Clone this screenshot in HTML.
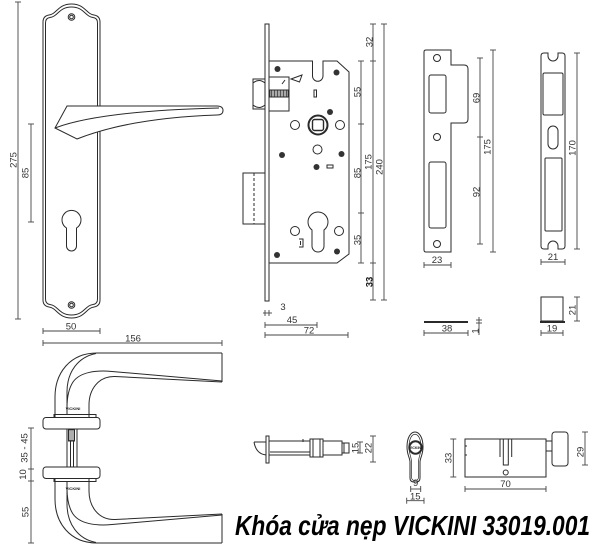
<!DOCTYPE html>
<html><head><meta charset="utf-8"><style>
html,body{margin:0;padding:0;background:#fff;}
svg{display:block}
text{font-family:"Liberation Sans",Arial,sans-serif;fill:#333;font-size:9.5px}
</style></head><body>
<svg width="600" height="550" viewBox="0 0 600 550" xmlns="http://www.w3.org/2000/svg">

<!-- ============ HANDLE PLATE ============ -->
<g fill="none" stroke="#2a2a2a" stroke-width="1">
  <path d="M43,22 Q43,16 49,15 C57,14 58,4 71.5,4 C85,4 86,14 94,15 Q100,16 100,22 L100,300 Q100,306 94,307 C86,308 85,318 71.5,318 C58,318 57,308 49,307 Q43,306 43,300 Z"/>
  <path d="M45.5,23 Q45.5,18 50,17.5 C58,16.5 59,7 71.5,7 C84,7 85,16.5 93,17.5 Q97.5,18 97.5,23 L97.5,299 Q97.5,304 93,304.5 C85,305.5 84,315 71.5,315 C59,315 58,305.5 50,304.5 Q45.5,304 45.5,299 Z"/>
  <circle cx="71.5" cy="17" r="3.3"/><circle cx="71.5" cy="17" r="1.8"/>
  <circle cx="71.5" cy="305" r="3.3"/><circle cx="71.5" cy="305" r="1.8"/>
  <path d="M66.5,228 A9.5,9.5 0 1 1 76.5,228 L76.5,246 A5,5 0 0 1 66.5,246 Z"/>
  <!-- lever -->
  <path fill="#fff" d="M67,106 L217,106 Q223,106 223,110.5 Q223,115 217,115 Q130,118 77,139 L55,128 Z"/>
  <path d="M55,128 Q100,111 219,108"/>
</g>

<!-- plate dims -->
<g stroke="#444" stroke-width="0.9" fill="none">
  <line x1="18" y1="2" x2="18" y2="319"/><line x1="15" y1="2" x2="21" y2="2"/><line x1="15" y1="319" x2="21" y2="319"/>
  <line x1="31" y1="124" x2="31" y2="222"/><line x1="28" y1="124" x2="34" y2="124"/><line x1="28" y1="222" x2="34" y2="222"/>
  <line x1="43" y1="331" x2="100" y2="331"/><line x1="43" y1="328" x2="43" y2="334"/><line x1="100" y1="328" x2="100" y2="334"/>
  <line x1="43" y1="343" x2="222" y2="343"/><line x1="43" y1="340" x2="43" y2="346"/><line x1="222" y1="340" x2="222" y2="346"/>
</g>
<text transform="translate(16.6,160) rotate(-90)" text-anchor="middle">275</text>
<text transform="translate(28.3,173) rotate(-90)" text-anchor="middle">85</text>
<text x="71" y="329.5" text-anchor="middle">50</text>
<text x="133" y="341.5" text-anchor="middle">156</text>

<!-- ============ HANDLE SIDE VIEW ============ -->
<g fill="none" stroke="#2a2a2a" stroke-width="1">
  <g id="hup">
    <path d="M222,353 L97,353 C70,353 55,373 55,397 L55,417"/>
    <path d="M96,353.5 C78,357 67,372 67,392 L67,415"/>
    <path d="M222,353 L222,382"/>
    <path d="M222,381 L112,371.5 C96,370 80,372 73,382 C69,388 67,396 67,408"/>
    <path d="M222,382 L115,376.5 C98,376 89,390 89,405 L89,417"/>
    <rect x="54" y="414.5" width="42" height="3"/>
    <rect x="43" y="417.5" width="57" height="11.5" rx="3" fill="#fff"/>
  </g>
  <g transform="matrix(1 0 0 -1 0 896)">
    <path d="M222,353 L97,353 C70,353 55,373 55,397 L55,417"/>
    <path d="M96,353.5 C78,357 67,372 67,392 L67,415"/>
    <path d="M222,353 L222,382"/>
    <path d="M222,381 L112,371.5 C96,370 80,372 73,382 C69,388 67,396 67,408"/>
    <path d="M222,382 L115,376.5 C98,376 89,390 89,405 L89,417"/>
    <rect x="54" y="414.5" width="42" height="3"/>
    <rect x="43" y="417.5" width="57" height="11.5" rx="3" fill="#fff"/>
  </g>
  <!-- spindle -->
  <rect x="67" y="429" width="10" height="38"/>
  <line x1="70.5" y1="441" x2="70.5" y2="467"/><line x1="73.5" y1="441" x2="73.5" y2="467"/>
  <rect x="68.5" y="430" width="6" height="11"/>
  <path d="M68.5,432 H74.5 M68.5,434 H74.5 M68.5,436 H74.5 M68.5,438 H74.5 M68.5,440 H74.5" stroke-width="0.7"/>
</g>
<text x="73" y="410" text-anchor="middle" style="font-size:4px;font-weight:bold;fill:#222">VICKINI</text>
<text x="73" y="490" text-anchor="middle" style="font-size:4px;font-weight:bold;fill:#222">VICKINI</text>
<g stroke="#444" stroke-width="0.9" fill="none">
  <line x1="31" y1="428" x2="31" y2="543"/>
  <line x1="28" y1="428" x2="34" y2="428"/><line x1="28" y1="469" x2="34" y2="469"/>
  <line x1="28" y1="481" x2="34" y2="481"/><line x1="28" y1="543" x2="34" y2="543"/>
</g>
<text transform="translate(27.3,448) rotate(-90)" text-anchor="middle">35 - 45</text>
<text transform="translate(26,474.5) rotate(-90)" text-anchor="middle">10</text>
<text transform="translate(28.3,512) rotate(-90)" text-anchor="middle">55</text>

<!-- ============ MORTISE LOCK BODY ============ -->
<g fill="none" stroke="#2a2a2a" stroke-width="1">
  <rect x="265" y="24" width="4" height="277"/>
  <path d="M269,61 L312.5,61 L312.5,76 A5.25,5.25 0 0 0 323,76 L323,61 L337,61 L349,72 L349,254 L337,263 L269,263 Z"/>
  <!-- latch -->
  <rect x="253" y="79" width="12" height="30"/>
  <path d="M253,83 Q259,78 265,83 M253,105 Q259,110 265,105"/>
  <rect x="269" y="77" width="20" height="34"/>
  <rect x="270" y="90" width="18" height="7"/>
  <path d="M271.5,90v7M273,90v7M274.5,90v7M276,90v7M277.5,90v7M279,90v7M280.5,90v7M282,90v7M283.5,90v7M285,90v7M286.5,90v7" stroke-width="0.8"/>
  <line x1="282" y1="84" x2="285" y2="80"/>
  <path d="M291,79 L302,75 L299.5,82 Z"/>
  <!-- spindle -->
  <circle cx="318" cy="125" r="9.5" stroke-width="2"/>
  <rect x="312.5" y="119.5" width="11" height="11" rx="2" stroke-width="1.4"/>
  <circle cx="295" cy="125" r="4.5"/><circle cx="340" cy="125" r="4.5"/>
  <circle cx="317.5" cy="149.5" r="4.5"/>
  <circle cx="295" cy="231" r="4.5"/><circle cx="339" cy="231" r="4.5"/>
  <rect x="314" y="90" width="2.5" height="7"/>
  <rect x="327" y="165" width="6" height="3"/>
  <path d="M312,230 A10,10 0 1 1 324,230 L324,246 A6,6 0 0 1 312,246 Z"/>
  <path d="M299,239 L303,239 L303,247 L299,247 M300.5,241 L300.5,245"/>
  <!-- deadbolt -->
  <rect x="243" y="173" width="22" height="51"/>
  <line x1="254" y1="173" x2="254" y2="224" stroke-dasharray="3,2"/>
</g>
<g fill="#333">
  <circle cx="277.5" cy="69" r="3"/><circle cx="336.5" cy="72.5" r="3"/>
  <circle cx="330" cy="112" r="3"/><circle cx="282" cy="155" r="3"/>
  <circle cx="341.5" cy="154" r="3"/><circle cx="316.5" cy="167" r="3"/>
  <circle cx="277" cy="255" r="3"/><circle cx="337" cy="251.5" r="3"/>
</g>
<g stroke="#444" stroke-width="0.9" fill="none">
  <line x1="361" y1="61" x2="361" y2="263"/>
  <line x1="358" y1="61" x2="364" y2="61"/><line x1="358" y1="124" x2="364" y2="124"/>
  <line x1="358" y1="213" x2="364" y2="213"/><line x1="358" y1="263" x2="364" y2="263"/>
  <line x1="373" y1="24" x2="373" y2="300"/>
  <line x1="370" y1="24" x2="376" y2="24"/><line x1="370" y1="61" x2="376" y2="61"/>
  <line x1="370" y1="263" x2="376" y2="263"/><line x1="370" y1="300" x2="376" y2="300"/>
  <line x1="384" y1="24" x2="384" y2="300"/>
  <line x1="381" y1="24" x2="387" y2="24"/><line x1="381" y1="300" x2="387" y2="300"/>
  <!-- bottom dims -->
  <line x1="263" y1="313" x2="272" y2="313"/>
  <line x1="265" y1="310" x2="265" y2="316"/><line x1="269" y1="310" x2="269" y2="316"/>
  <line x1="265" y1="325" x2="317" y2="325"/>
  <line x1="265" y1="322" x2="265" y2="328"/><line x1="317" y1="322" x2="317" y2="328"/>
  <line x1="265" y1="335" x2="348" y2="335"/>
  <line x1="265" y1="332" x2="265" y2="338"/><line x1="348" y1="332" x2="348" y2="338"/>
</g>
<text transform="translate(360.3,92) rotate(-90)" text-anchor="middle">55</text>
<text transform="translate(360.3,173) rotate(-90)" text-anchor="middle">85</text>
<text transform="translate(360.3,240) rotate(-90)" text-anchor="middle">35</text>
<text transform="translate(372.3,42) rotate(-90)" text-anchor="middle">32</text>
<text transform="translate(371.3,162) rotate(-90)" text-anchor="middle">175</text>
<text transform="translate(372.5,282) rotate(-90)" text-anchor="middle" style="font-weight:bold;fill:#111">33</text>
<text transform="translate(382.3,167) rotate(-90)" text-anchor="middle">240</text>
<text x="283" y="310" text-anchor="middle">3</text>
<text x="292" y="323" text-anchor="middle">45</text>
<text x="309" y="333.5" text-anchor="middle">72</text>

<!-- ============ STRIKE PLATES ============ -->
<g fill="none" stroke="#2a2a2a" stroke-width="1">
  <path d="M426,50 L451,50 L451,65 L464,65 Q468,65 468,69 L468,119 Q468,123 464,123 L451,123 L451,252 L426,252 Q424,252 424,250 L424,52 Q424,50 426,50 Z"/>
  <circle cx="437" cy="58" r="3.5"/>
  <rect x="429" y="75" width="17" height="38" rx="2"/>
  <circle cx="437" cy="137" r="3.5"/>
  <rect x="429" y="162" width="17" height="66" rx="2"/>
  <circle cx="437" cy="244" r="3.5"/>

  <path d="M544,53 L548,53 L548,56 A5,5 0 0 0 558,56 L558,53 L562,53 Q565,53 565,56 L565,246 Q565,249 562,249 L558,249 L558,246 A5,5 0 0 0 548,246 L548,249 L544,249 Q541,249 541,246 L541,56 Q541,53 544,53 Z"/>
  <rect x="543" y="73" width="20" height="42" rx="1.5"/>
  <rect x="548" y="126" width="10" height="23" rx="5"/>
  <rect x="545" y="158" width="17" height="73" rx="1"/>

  <!-- small parts -->
  <line x1="424" y1="322" x2="468" y2="322" stroke-width="2"/>
  <rect x="541" y="297" width="22" height="24"/>
  <line x1="540" y1="322" x2="565" y2="322" stroke-width="2"/>
</g>
<g stroke="#444" stroke-width="0.9" fill="none">
  <line x1="480" y1="58" x2="480" y2="244"/>
  <line x1="477" y1="58" x2="483" y2="58"/><line x1="477" y1="137" x2="483" y2="137"/><line x1="477" y1="244" x2="483" y2="244"/>
  <line x1="493" y1="50" x2="493" y2="252"/>
  <line x1="490" y1="50" x2="496" y2="50"/><line x1="490" y1="252" x2="496" y2="252"/>
  <line x1="424" y1="265" x2="451" y2="265"/>
  <line x1="424" y1="262" x2="424" y2="268"/><line x1="451" y1="262" x2="451" y2="268"/>
  <line x1="577" y1="53" x2="577" y2="249"/>
  <line x1="574" y1="53" x2="580" y2="53"/><line x1="574" y1="249" x2="580" y2="249"/>
  <line x1="541" y1="262" x2="565" y2="262"/>
  <line x1="541" y1="259" x2="541" y2="265"/><line x1="565" y1="259" x2="565" y2="265"/>
  <line x1="424" y1="333" x2="468" y2="333"/>
  <line x1="424" y1="330" x2="424" y2="336"/><line x1="468" y1="330" x2="468" y2="336"/>
  <line x1="479" y1="317" x2="479" y2="335"/>
  <line x1="476" y1="320" x2="482" y2="320"/><line x1="476" y1="323" x2="482" y2="323"/>
  <line x1="577" y1="297" x2="577" y2="321"/>
  <line x1="574" y1="297" x2="580" y2="297"/><line x1="574" y1="321" x2="580" y2="321"/>
  <line x1="541" y1="333" x2="563" y2="333"/>
  <line x1="541" y1="330" x2="541" y2="336"/><line x1="563" y1="330" x2="563" y2="336"/>
</g>
<text transform="translate(479.3,98) rotate(-90)" text-anchor="middle">69</text>
<text transform="translate(479.3,192) rotate(-90)" text-anchor="middle">92</text>
<text transform="translate(490.3,147) rotate(-90)" text-anchor="middle">175</text>
<text x="437" y="263" text-anchor="middle">23</text>
<text transform="translate(575.3,148) rotate(-90)" text-anchor="middle">170</text>
<text x="553" y="260" text-anchor="middle">21</text>
<text x="447" y="331.5" text-anchor="middle">38</text>
<text transform="translate(478.3,331) rotate(-90)" text-anchor="middle">1</text>
<text transform="translate(575.3,310) rotate(-90)" text-anchor="middle">21</text>
<text x="552" y="331.5" text-anchor="middle">19</text>

<!-- ============ LATCH BOLT ============ -->
<g fill="none" stroke="#2a2a2a" stroke-width="1">
  <rect x="266" y="436" width="3" height="27"/>
  <path d="M254,442 L266,442 M254,442 Q256,454 266,455"/>
  <rect x="269" y="441" width="73" height="14"/>
  <line x1="270" y1="452" x2="310" y2="452"/>
  <rect x="342" y="443" width="7" height="10"/>
  <line x1="344" y1="443" x2="344" y2="453"/>
  <rect x="310" y="439" width="13" height="18" fill="#fff"/>
  <line x1="313" y1="439" x2="313" y2="457"/><line x1="320" y1="439" x2="320" y2="457"/>
  <line x1="303" y1="439" x2="303" y2="442"/>
</g>
<g stroke="#444" stroke-width="0.9" fill="none">
  <line x1="360" y1="442" x2="360" y2="453"/>
  <line x1="357" y1="442" x2="363" y2="442"/><line x1="357" y1="453" x2="363" y2="453"/>
  <line x1="373" y1="436" x2="373" y2="462"/>
  <line x1="370" y1="436" x2="376" y2="436"/><line x1="370" y1="462" x2="376" y2="462"/>
</g>
<text transform="translate(358.3,448) rotate(-90)" text-anchor="middle">15</text>
<text transform="translate(371.6,448) rotate(-90)" text-anchor="middle">22</text>

<!-- ============ CYLINDER END VIEW ============ -->
<g fill="none" stroke="#2a2a2a" stroke-width="1">
  <path d="M407,447 C407,427 423,427 423,447 C423,455 420,458 420,462 L420,478 Q420,482 416,482 L414,482 Q410,482 410,478 L410,462 C410,458 407,455 407,447 Z"/>
  <path d="M409,447 C409,430 421,430 421,447 C421,454 418.5,457 418.5,462 L418.5,477 Q418.5,480.5 415,480.5 Q411.5,480.5 411.5,477 L411.5,462 C411.5,457 409,454 409,447 Z" stroke-width="0.7"/>
  <circle cx="415.5" cy="447.5" r="6.2" stroke-width="2"/>
</g>
<text x="415.5" y="449" text-anchor="middle" style="font-size:3.5px;font-weight:bold;fill:#222">VICKINI</text>
<g stroke="#444" stroke-width="0.9" fill="none">
  <line x1="410.7" y1="489" x2="420.7" y2="489"/>
  <line x1="410.7" y1="486" x2="410.7" y2="492"/><line x1="420.7" y1="486" x2="420.7" y2="492"/>
  <line x1="406.7" y1="500.7" x2="424" y2="500.7"/>
  <line x1="406.7" y1="497.7" x2="406.7" y2="503.7"/><line x1="424" y1="497.7" x2="424" y2="503.7"/>
</g>
<text x="415.7" y="486" text-anchor="middle">9</text>
<text x="415.3" y="499.5" text-anchor="middle">15</text>

<!-- ============ CYLINDER SIDE ============ -->
<g fill="none" stroke="#2a2a2a" stroke-width="1">
  <rect x="465" y="439" width="81" height="38"/>
  <line x1="465" y1="446" x2="467" y2="446"/><line x1="465" y1="455" x2="467" y2="455"/>
  <line x1="500" y1="439" x2="500" y2="457"/><line x1="511.7" y1="439" x2="511.7" y2="457"/>
  <path d="M503.3,439 L503.3,465 L508.3,465 L508.3,439"/>
  <circle cx="505.7" cy="472.5" r="2.5"/>
  <rect x="546" y="441" width="6" height="10"/>
  <rect x="552" y="432" width="16" height="34" rx="3"/>
</g>
<g stroke="#444" stroke-width="0.9" fill="none">
  <line x1="453.3" y1="439" x2="453.3" y2="477"/>
  <line x1="450.3" y1="439" x2="456.3" y2="439"/><line x1="450.3" y1="477" x2="456.3" y2="477"/>
  <line x1="465" y1="489" x2="546" y2="489"/>
  <line x1="465" y1="486" x2="465" y2="492"/><line x1="546" y1="486" x2="546" y2="492"/>
  <line x1="585" y1="432" x2="585" y2="465"/>
  <line x1="582" y1="432" x2="588" y2="432"/><line x1="582" y1="465" x2="588" y2="465"/>
</g>
<text transform="translate(451.3,458) rotate(-90)" text-anchor="middle">33</text>
<text x="505.5" y="487" text-anchor="middle">70</text>
<text transform="translate(583.3,452) rotate(-90)" text-anchor="middle">29</text>

<!-- ============ TITLE ============ -->
<text x="235" y="535" textLength="355" lengthAdjust="spacingAndGlyphs" style="font-family:'Liberation Sans',Arial,sans-serif;font-size:28px;font-weight:bold;font-style:italic;fill:#000">Khóa cửa nẹp VICKINI 33019.001</text>
</svg>
</body></html>
